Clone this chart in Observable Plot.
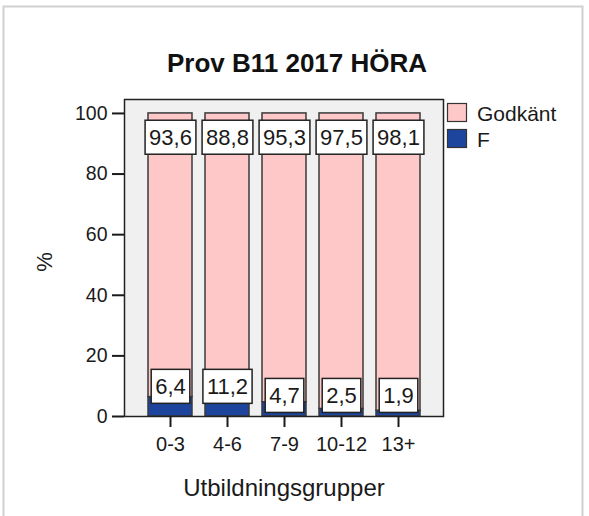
<!DOCTYPE html>
<html><head><meta charset="utf-8">
<script src="https://cdn.jsdelivr.net/npm/d3@7"></script>
<script src="https://cdn.jsdelivr.net/npm/@observablehq/plot@0.6"></script>
<style>
body{margin:0;background:#fff;}
svg{font-family:"Liberation Sans",Arial,sans-serif;}
</style>
</head><body><div id="chart"></div>
<script>
const groups = ["0-3", "4-6", "7-9", "10-12", "13+"];
const godkant = [93.6, 88.8, 95.3, 97.5, 98.1];
const fail = [6.4, 11.2, 4.7, 2.5, 1.9];
const seriesNames = ["Godkänt", "F"];
const yTicks = [0, 20, 40, 60, 80, 100];
const title = "Prov B11 2017 HÖRA";
const xLabel = "Utbildningsgrupper";
const yLabel = "%";

const colors = ["#ffc8c8", "#1e459e"];
const rows = [];
groups.forEach((g, i) => {
  rows.push({group: g, series: "F", value: fail[i]});
  rows.push({group: g, series: "Godkänt", value: godkant[i]});
});
const fmt = v => v.toFixed(1).replace(".", ",");
const topLabels = groups.map((g, i) => ({group: g, y: fail[i] + godkant[i] - 8, text: fmt(godkant[i])}));
const botLabels = groups.map((g, i) => ({group: g, y: fail[i] > 5 ? 9.8 : 6.8, text: fmt(fail[i])}));

const plot = Plot.plot({
  width: 589, height: 516,
  marginLeft: 124, marginRight: 146, marginTop: 99, marginBottom: 100,
  style: {fontFamily: '"Liberation Sans", Arial, sans-serif', fontSize: "20px", color: "#1a1a1a", background: "white", overflow: "visible"},
  x: {domain: groups, paddingInner: 0.23, paddingOuter: 0.377, label: null},
  y: {domain: [0, 104.6], label: null},
  color: {domain: seriesNames, range: colors},
  marks: [
    Plot.frame({fill: "#f0f0f0", stroke: null}),
    Plot.barY(rows, {x: "group", y: "value", fill: "series", order: ["F", "Godkänt"], stroke: "#3a3a3a", strokeWidth: 1.5}),
    Plot.frame({stroke: "#222", strokeWidth: 1.5}),
    Plot.axisY({ticks: yTicks, tickSize: 12, tickPadding: 5, label: null, fontSize: 19.5, strokeWidth: 2, tickFormat: d => d}),
    Plot.axisX({tickSize: 11, tickPadding: 9, label: null, fontSize: 20, strokeWidth: 2}),
    Plot.text(topLabels, {x: "group", y: "y", text: "text", fontSize: 22, fill: "#1a1a1a"}),
    Plot.text(botLabels, {x: "group", y: "y", text: "text", fontSize: 22, fill: "#1a1a1a"})
  ]
});
document.getElementById("chart").appendChild(plot);

const svg = d3.select(plot);
// boxes behind value labels
svg.selectAll('g[aria-label="text"] text').each(function() {
  const b = this.getBBox();
  const cy = b.y + b.height / 2;
  const r = d3.select(this.parentNode).insert("rect", () => this)
    .attr("x", b.x - 4).attr("y", cy - 17)
    .attr("width", b.width + 8).attr("height", 34)
    .attr("fill", "white").attr("stroke", "#222").attr("stroke-width", 1.5);
  const t = this.getAttribute("transform");
  if (t) r.attr("transform", t);
});

// outer border
svg.append("rect").attr("x", 3.5).attr("y", 6.5).attr("width", 579).attr("height", 520)
  .attr("fill", "none").attr("stroke", "#d0d0d0").attr("stroke-width", 2);

// title
svg.append("text").attr("x", 297).attr("y", 72).attr("text-anchor", "middle")
  .attr("font-size", 26).attr("font-weight", "bold").attr("fill", "#111").text(title);
// axis titles
svg.append("text").attr("x", 284).attr("y", 496).attr("text-anchor", "middle")
  .attr("font-size", 24).attr("fill", "#1a1a1a").text(xLabel);
svg.append("text").attr("transform", "translate(52,262) rotate(-90)").attr("text-anchor", "middle")
  .attr("font-size", 22).attr("fill", "#1a1a1a").text(yLabel);

// legend
seriesNames.forEach((s, i) => {
  svg.append("rect").attr("x", 447.5).attr("y", 103.5 + i * 26).attr("width", 19).attr("height", 18)
    .attr("fill", colors[i]).attr("stroke", "#333").attr("stroke-width", 1.2);
  svg.append("text").attr("x", 477).attr("y", 121 + i * 26).attr("text-anchor", "start")
    .attr("font-size", 21).attr("fill", "#1a1a1a").text(s);
});
</script>
</body></html>
